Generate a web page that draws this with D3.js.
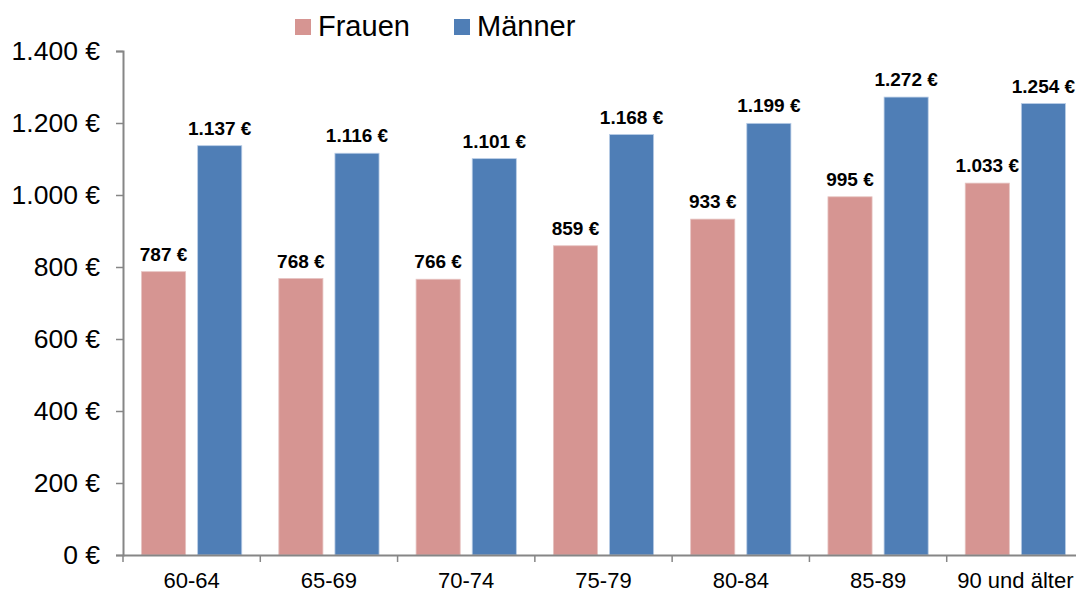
<!DOCTYPE html>
<html>
<head>
<meta charset="utf-8">
<script src="https://cdn.jsdelivr.net/npm/d3@7"></script>
<style>
  body { margin: 0; background: #fff; }
  svg { display: block; font-family: "Liberation Sans", Arial, sans-serif; }
</style>
</head>
<body>
<div id="chart"></div>
<script>
// data
const ageGroups = ['60-64', '65-69', '70-74', '75-79', '80-84', '85-89', '90 und älter'];
const frauenValues = [787, 768, 766, 859, 933, 995, 1033];
const maennerValues = [1137, 1116, 1101, 1168, 1199, 1272, 1254];
const seriesNames = ['Frauen', 'Männer'];
const yTickValues = [0, 200, 400, 600, 800, 1000, 1200, 1400];

const width = 1076;
const height = 592;
const plot = {left: 123, right: 1084, top: 51, bottom: 555};

const seriesColor = d3.scaleOrdinal()
    .domain(seriesNames)
    .range(['#D69592', '#4F7EB6']);

const fmt = v => d3.format(',')(v).replace(/,/g, '.') + ' €';

const rows = ageGroups.map((g, i) => ({group: g, Frauen: frauenValues[i], 'Männer': maennerValues[i]}));

const svg = d3.select('#chart')
    .append('svg')
    .attr('width', width)
    .attr('height', height);

const xScale = d3.scaleBand()
    .domain(ageGroups)
    .range([plot.left, plot.right])
    .padding(0);

const xInner = d3.scaleBand()
    .domain(seriesNames)
    .range([0, xScale.bandwidth()])
    .paddingInner(0.214)
    .paddingOuter(0.33);

const yScale = d3.scaleLinear()
    .domain([0, 1400])
    .range([plot.bottom, plot.top]);

// bars
const groups = svg.selectAll('.group')
    .data(rows)
    .join('g')
    .attr('class', 'group')
    .attr('transform', d => `translate(${xScale(d.group)},0)`);

groups.selectAll('rect')
    .data(d => seriesNames.map(k => ({key: k, value: d[k]})))
    .join('rect')
    .attr('x', d => xInner(d.key))
    .attr('y', d => yScale(d.value))
    .attr('width', xInner.bandwidth())
    .attr('height', d => yScale(0) - yScale(d.value))
    .attr('fill', d => seriesColor(d.key))
    .attr('stroke', d => d.key === 'Frauen' ? '#e6c3c1' : '#b9cde6')
    .attr('stroke-width', 0.8);

groups.selectAll('.valuelabel')
    .data(d => seriesNames.map(k => ({key: k, value: d[k]})))
    .join('text')
    .attr('class', 'valuelabel')
    .attr('x', d => xInner(d.key) + xInner.bandwidth() / 2)
    .attr('y', d => yScale(d.value) - 11)
    .attr('text-anchor', 'middle')
    .style('font-size', '19px')
    .style('font-weight', 'bold')
    .attr('fill', '#000')
    .text(d => fmt(d.value));

// y axis
const yAxis = svg.append('g')
    .attr('class', 'yaxis')
    .attr('transform', `translate(${plot.left},0)`)
    .call(d3.axisLeft(yScale).tickValues(yTickValues).tickFormat(fmt).tickSize(7).tickPadding(16));

yAxis.select('.domain').attr('stroke', '#868686').attr('stroke-width', 2);
yAxis.selectAll('.tick line').attr('stroke', '#868686').attr('stroke-width', 1.5);
yAxis.selectAll('.tick text')
    .style('font-size', '26.5px')
    .attr('fill', '#000');

// x axis
const xAxis = svg.append('g')
    .attr('class', 'xaxis')
    .attr('transform', `translate(0,${plot.bottom})`)
    .call(d3.axisBottom(xScale).tickSize(0).tickPadding(17));

xAxis.select('.domain').attr('stroke', '#868686').attr('stroke-width', 2);
xAxis.selectAll('.tick text')
    .style('font-size', '22px')
    .attr('fill', '#000');

// category separators on the x axis
svg.append('g')
    .selectAll('line')
    .data(ageGroups)
    .join('line')
    .attr('x1', d => xScale(d))
    .attr('x2', d => xScale(d))
    .attr('y1', plot.bottom)
    .attr('y2', plot.bottom + 7)
    .attr('stroke', '#868686')
    .attr('stroke-width', 1.5);

// legend
const legendX = [295, 454];
seriesNames.forEach((name, i) => {
    svg.append('rect')
        .attr('x', legendX[i])
        .attr('y', 19)
        .attr('width', 16)
        .attr('height', 16)
        .attr('fill', seriesColor(name));

    svg.append('text')
        .attr('x', legendX[i] + 23)
        .attr('y', 36)
        .style('font-size', '29px')
        .attr('fill', '#000')
        .text(name);
});
</script>
</body>
</html>
